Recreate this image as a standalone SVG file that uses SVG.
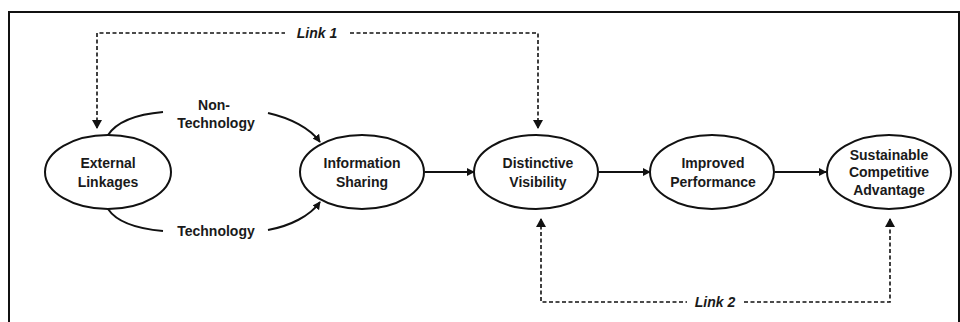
<svg xmlns="http://www.w3.org/2000/svg" width="960" height="322" viewBox="0 0 960 322">
  <style>
    .node ellipse { fill: #fff; stroke: #111; stroke-width: 2; }
    text { font-family: "Liberation Sans", Arial, sans-serif; font-size: 14px; font-weight: bold; fill: #1a1a1a; text-anchor: middle; }
    .link { font-style: italic; }
    .solid { fill: none; stroke: #111; stroke-width: 2; }
    .dash { fill: none; stroke: #111; stroke-width: 1.6; stroke-dasharray: 4 2.5; }
  </style>
  <defs>
    <marker id="arrow" viewBox="0 0 10 10" refX="9" refY="5" markerWidth="5" markerHeight="5" orient="auto-start-reverse" markerUnits="userSpaceOnUse">
      <path d="M0,0 L10,5 L0,10 z" fill="#111"/>
    </marker>
    <marker id="arrowLg" viewBox="0 0 10 10" refX="9" refY="5" markerWidth="8" markerHeight="8" orient="auto-start-reverse" markerUnits="userSpaceOnUse">
      <path d="M0,0 L10,5 L0,10 z" fill="#111"/>
    </marker>
  </defs>

  <rect width="960" height="322" fill="#fff"/>
  <!-- frame -->
  <path d="M9,322 V12 H959 V322" fill="none" stroke="#111" stroke-width="2"/>

  <g id="connectors">
    <!-- non-technology channel -->
    <path class="solid" d="M108,135 C118,120 140,114 163,112"/>
    <path class="solid" d="M268,113 C290,118 310,128 320,142" marker-end="url(#arrowLg)"/>
    <!-- technology channel -->
    <path class="solid" d="M108,209 C118,224 140,229 163,231"/>
    <path class="solid" d="M268,230 C290,226 310,216 320,202" marker-end="url(#arrowLg)"/>
    <!-- main chain -->
    <line class="solid" x1="425" y1="172" x2="474" y2="172" marker-end="url(#arrowLg)"/>
    <line class="solid" x1="599" y1="172" x2="650" y2="172" marker-end="url(#arrowLg)"/>
    <line class="solid" x1="775" y1="172" x2="826" y2="172" marker-end="url(#arrowLg)"/>
    <!-- Link 1 -->
    <path class="dash" d="M97,128 V33 H285"/>
    <path class="dash" d="M350,33 H538 V128"/>
    <path d="M92,120 L102,120 L97,129 z" fill="#111"/>
    <path d="M533,120 L543,120 L538,129 z" fill="#111"/>
    <text class="link" x="317" y="38">Link 1</text>
    <!-- Link 2 -->
    <path class="dash" d="M541,219 V302 H687"/>
    <path class="dash" d="M744,302 H890 V219"/>
    <path d="M536,227 L546,227 L541,218 z" fill="#111"/>
    <path d="M885,227 L895,227 L890,218 z" fill="#111"/>
    <text class="link" x="715" y="307">Link 2</text>
    <!-- channel labels -->
    <text x="214" y="110">Non-</text>
    <text x="216" y="128">Technology</text>
    <text x="216" y="236">Technology</text>
  </g>

  <g id="external-linkages" class="node">
    <ellipse cx="108" cy="172" rx="63" ry="37"/>
    <text x="108" y="168">External</text>
    <text x="108" y="187">Linkages</text>
  </g>
  <g id="information-sharing" class="node">
    <ellipse cx="362" cy="172" rx="62" ry="37"/>
    <text x="362" y="168">Information</text>
    <text x="362" y="187">Sharing</text>
  </g>
  <g id="distinctive-visibility" class="node">
    <ellipse cx="536" cy="172" rx="62" ry="37"/>
    <text x="538" y="168">Distinctive</text>
    <text x="538" y="187">Visibility</text>
  </g>
  <g id="improved-performance" class="node">
    <ellipse cx="712" cy="172" rx="62" ry="37"/>
    <text x="713" y="168">Improved</text>
    <text x="713" y="187">Performance</text>
  </g>
  <g id="sustainable-advantage" class="node">
    <ellipse cx="889" cy="172" rx="62" ry="37"/>
    <text x="889" y="160">Sustainable</text>
    <text x="889" y="177">Competitive</text>
    <text x="889" y="195">Advantage</text>
  </g>
</svg>
